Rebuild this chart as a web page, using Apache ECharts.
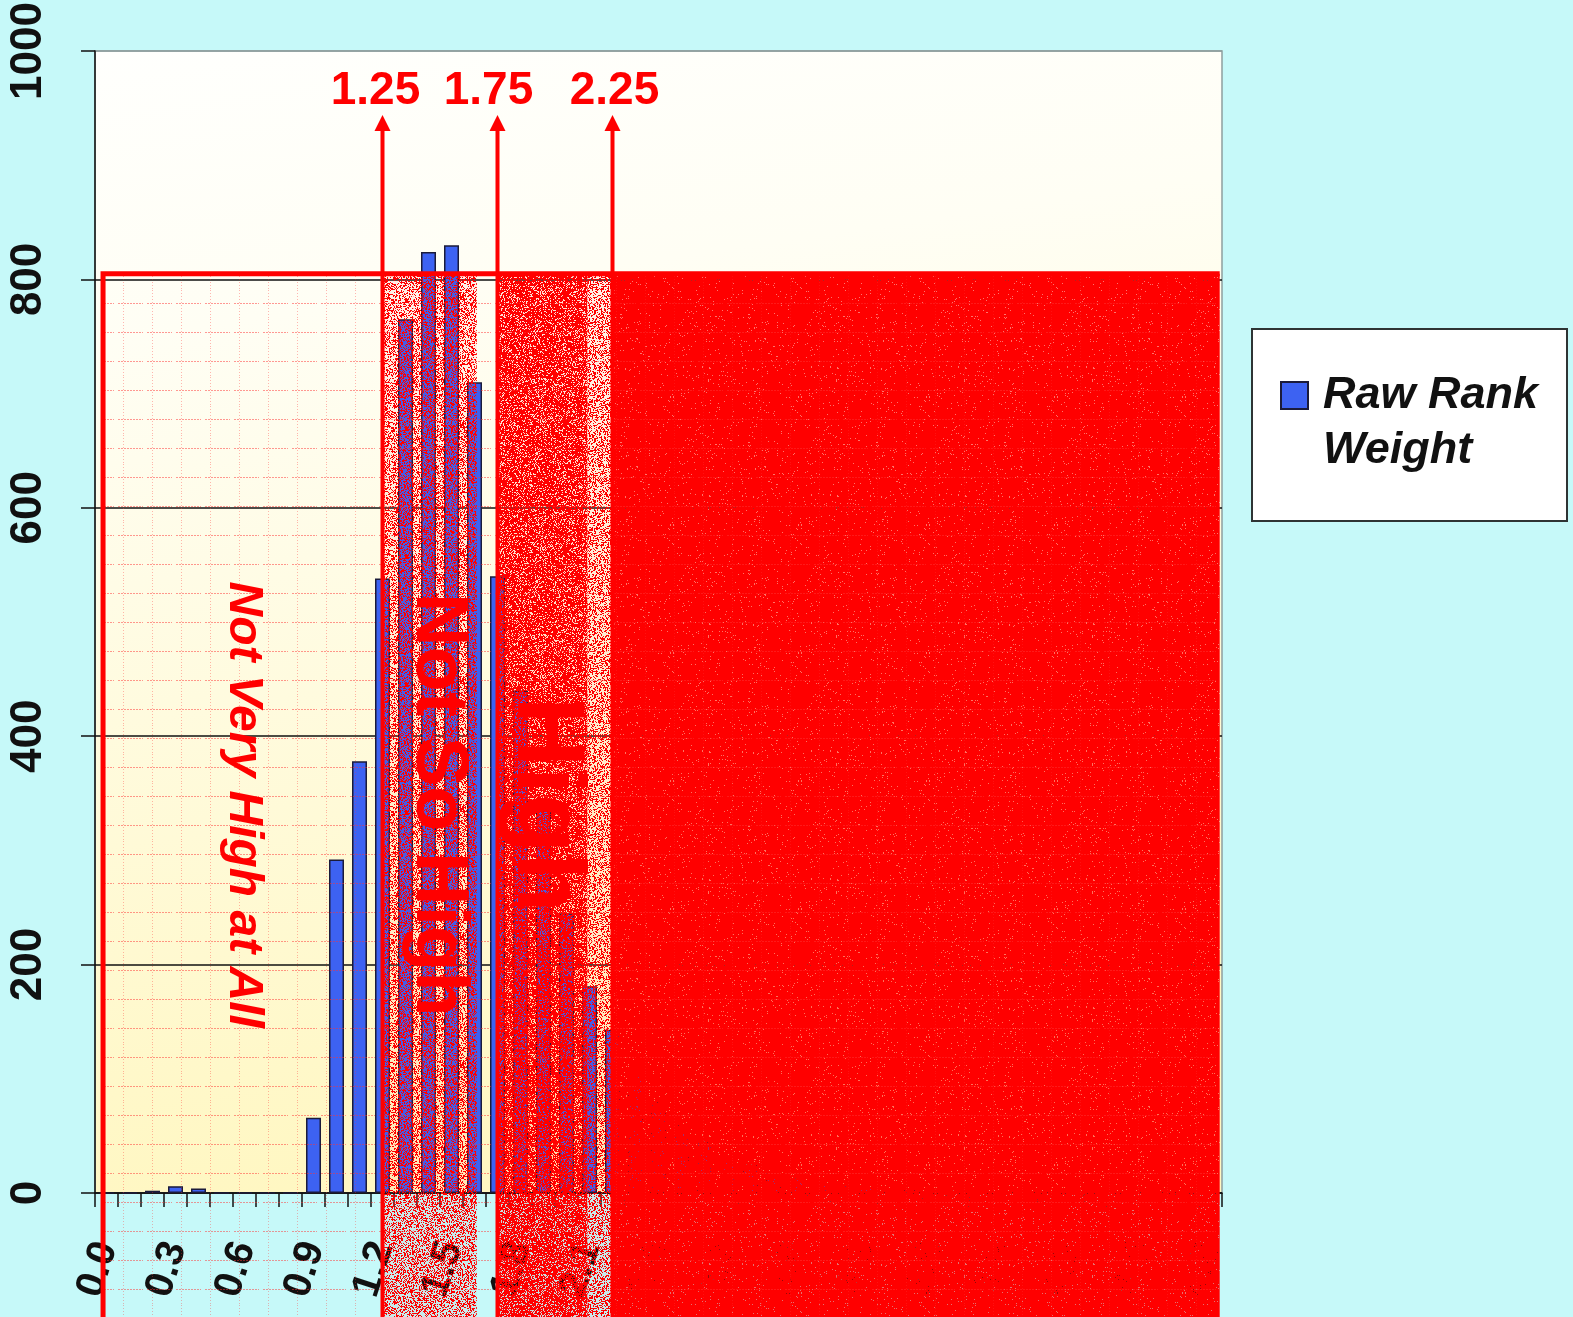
<!DOCTYPE html>
<html>
<head>
<meta charset="utf-8">
<title>Raw Rank Weight</title>
<script src="https://cdn.jsdelivr.net/npm/echarts/dist/echarts.min.js"></script>
<style>
  html, body { margin: 0; padding: 0; background: #C6F9F9; }
  #chart { width: 1573px; height: 1317px; }
</style>
</head>
<body>
<div id="chart"></div>
<script>
// Histogram bins (left edge of each 0.1-wide bin)
const categories = [
  '0.0','0.1','0.2','0.3','0.4','0.5','0.6','0.7','0.8','0.9',
  '1.0','1.1','1.2','1.3','1.4','1.5','1.6','1.7','1.8','1.9',
  '2.0','2.1','2.2','2.3','2.4','2.5','2.6','2.7','2.8','2.9',
  '3.0','3.1','3.2','3.3','3.4','3.5','3.6','3.7','3.8','3.9',
  '4.0','4.1','4.2','4.3','4.4','4.5','4.6','4.7','4.8'
];

// Raw rank weight counts per bin
const rawRankWeight = [
  0, 0, 2, 6, 4, 0, 0, 0, 0, 66,
  292, 378, 538, 765, 824, 830, 710, 540, 440, 335,
  245, 181, 143, 105, 80, 60, 45, 33, 25, 18,
  13, 10, 7, 5, 4, 3, 2, 2, 1, 1,
  1, 0, 0, 0, 0, 0, 0, 0, 0
];

// Cut points between the rating zones
const thresholds = [1.25, 1.75, 2.25];
const thresholdLabels = ['1.25', '1.75', '2.25'];
const zoneNames = ['Not Very High at All', 'Not So High', 'High'];
const seriesName = 'Raw Rank Weight';

const RED = '#FF0000';
const FONT = '"Liberation Sans", Arial, Helvetica, sans-serif';

// --- textures ---------------------------------------------------------
function noise(x, y, seed) {
  let h = (x * 374761393 + y * 668265263 + seed * 2246822519) | 0;
  h = Math.imul(h ^ (h >>> 13), 1274126177);
  h = h ^ (h >>> 16);
  return (h >>> 0) / 4294967296;
}
// red stipple: most pixels opaque red, the rest only lightly tinted
function stippleTile(density, gapAlpha, seed) {
  const size = 128;
  const c = document.createElement('canvas');
  c.width = size; c.height = size;
  const ctx = c.getContext('2d');
  const img = ctx.createImageData(size, size);
  for (let y = 0; y < size; y++) {
    for (let x = 0; x < size; x++) {
      const k = (y * size + x) * 4;
      img.data[k] = 255; img.data[k + 1] = 0; img.data[k + 2] = 0;
      img.data[k + 3] = noise(x, y, seed) < density ? 255 : Math.round(255 * gapAlpha);
    }
  }
  ctx.putImageData(img, 0, 0);
  return c;
}
function dotGridTile() {
  const s = 29;
  const c = document.createElement('canvas');
  c.width = s; c.height = s;
  const ctx = c.getContext('2d');
  ctx.fillStyle = 'rgba(255,50,50,0.5)';
  for (let x = 0; x < s; x++) if (x % 3 !== 1 && x > 1 && x < 27) ctx.fillRect(x, 13, 1, 1);
  ctx.fillStyle = 'rgba(255,50,50,0.35)';
  for (let y = 0; y < s; y++) if (y % 3 === 0) ctx.fillRect(7, y, 1, 1);
  return c;
}
const tiles = {
  light: stippleTile(0.42, 0.06, 1),
  light2: stippleTile(0.4, 0.06, 2),
  dense: stippleTile(0.78, 0.12, 3),
  solid: stippleTile(0.975, 0.55, 4),
  grid: dotGridTile()
};

// --- annotation layout (in data units of the bin axis / count axis) ---
const zoneTop = 805;          // top edge of the annotation frame
const frameLeft = 0.035;
const frameRight = 4.89;
const arrowTip = 944;
const labelLevel = 965;
const labelShift = [-7, -9, 2];
const zoneTextLevel = 340;
const zoneTextShift = [0, -3, -10];
const bands = [
  { from: thresholds[0], to: 1.66, tile: 'light' },
  { from: thresholds[1], to: 2.14, tile: 'dense' },
  { from: 2.14, to: thresholds[2], tile: 'light2' },
  { from: thresholds[2], to: frameRight, tile: 'solid' }
];
const zoneBounds = [frameLeft].concat(thresholds);
const zoneFonts = ['italic bold 48px ' + FONT, 'bold 74px ' + FONT, 'bold 97px ' + FONT];

function renderBand(params, api) {
  const b = bands[params.dataIndex];
  const p0 = api.coord([b.from, zoneTop]);
  const p1 = api.coord([b.to, zoneTop]);
  return {
    type: 'rect',
    shape: { x: p0[0], y: p0[1], width: p1[0] - p0[0], height: api.getHeight() - p0[1] },
    style: { fill: { image: tiles[b.tile], repeat: 'repeat' } }
  };
}
function renderFrame(params, api) {
  const tl = api.coord([frameLeft, zoneTop]);
  const tr = api.coord([frameRight, zoneTop]);
  const H = api.getHeight();
  return {
    type: 'group',
    children: [
      { type: 'rect', shape: { x: tl[0], y: tl[1], width: tr[0] - tl[0], height: H - tl[1] },
        style: { fill: { image: tiles.grid, repeat: 'repeat' } } },
      { type: 'polyline', shape: { points: [[tl[0], H + 5], tl, tr] },
        style: { stroke: RED, lineWidth: 5, fill: null } }
    ]
  };
}
function renderZoneText(params, api) {
  const i = params.dataIndex;
  const c = api.coord([(zoneBounds[i] + zoneBounds[i + 1]) / 2, zoneTextLevel]);
  return {
    type: 'text', x: c[0] + zoneTextShift[i], y: c[1], rotation: -Math.PI / 2,
    style: { text: zoneNames[i], font: zoneFonts[i], fill: RED, align: 'center', verticalAlign: 'middle' }
  };
}
function renderArrow(params, api) {
  const i = params.dataIndex;
  const tip = api.coord([thresholds[i], arrowTip]);
  const lab = api.coord([thresholds[i], labelLevel]);
  const H = api.getHeight();
  return {
    type: 'group',
    children: [
      { type: 'line', shape: { x1: tip[0], y1: tip[1] + 10, x2: tip[0], y2: H + 5 },
        style: { stroke: RED, lineWidth: 4 } },
      { type: 'polygon', shape: { points: [[tip[0], tip[1]], [tip[0] - 8, tip[1] + 16], [tip[0] + 8, tip[1] + 16]] },
        style: { fill: RED } },
      { type: 'text', x: lab[0] + labelShift[i], y: lab[1],
        style: { text: thresholdLabels[i], font: 'bold 46px ' + FONT, fill: RED, align: 'center', verticalAlign: 'middle' } }
    ]
  };
}

const overlayBase = {
  type: 'custom', coordinateSystem: 'cartesian2d', xAxisIndex: 1, yAxisIndex: 0,
  clip: false, silent: true, animation: false, legendHoverLink: false
};

const chart = echarts.init(document.getElementById('chart'), null, { renderer: 'canvas', width: 1573, height: 1317 });

chart.setOption({
  backgroundColor: '#C6F9F9',
  animation: false,
  textStyle: { fontFamily: FONT },
  grid: {
    left: 95, top: 51, right: 351, bottom: 124,
    containLabel: false, outerBoundsMode: 'none',
    show: true,
    borderColor: '#8E9E9E', borderWidth: 1.5,
    backgroundColor: new echarts.graphic.LinearGradient(0, 0, 0.15, 1, [
      { offset: 0, color: '#FFFFFD' },
      { offset: 0.25, color: '#FFFEF4' },
      { offset: 1, color: '#FFF7C2' }
    ])
  },
  graphic: [{
    type: 'rect', left: 1251, top: 328, z: 1, silent: true,
    shape: { width: 315, height: 192 },
    style: { fill: '#FFFFFF', stroke: '#2E3434', lineWidth: 2 }
  }],
  legend: {
    show: true, left: 1280, top: 313, padding: 0, z: 5,
    orient: 'vertical', selectedMode: false,
    itemWidth: 27, itemHeight: 27, icon: 'rect',
    data: [seriesName],
    // blank first line keeps the swatch level with "Raw Rank"
    formatter: () => ' \nRaw Rank\nWeight',
    textStyle: {
      fontFamily: FONT, fontSize: 45, fontStyle: 'italic', fontWeight: 'bold',
      color: '#111111', lineHeight: 55, padding: [0, 0, 0, 10]
    }
  },
  xAxis: [{
    type: 'category', data: categories, boundaryGap: true,
    axisLine: { show: true, lineStyle: { color: '#111', width: 1.5 } },
    axisTick: { show: true, interval: 0, alignWithLabel: false, length: 14, lineStyle: { color: '#111', width: 1.5 } },
    axisLabel: {
      interval: 2, rotate: 72, margin: 50,
      fontSize: 40, fontWeight: 'bold', color: '#111', fontFamily: FONT
    },
    splitLine: { show: false }
  }, {
    type: 'value', min: 0, max: 4.9, show: false,
    splitLine: { show: false }
  }],
  yAxis: [{
    type: 'value', min: 0, max: 1000, interval: 200,
    axisLine: { show: true, lineStyle: { color: '#111', width: 1.5 } },
    axisTick: { show: true, length: 14, lineStyle: { color: '#111', width: 1.5 } },
    axisLabel: {
      rotate: 90, margin: 44, formatter: v => String(v),
      fontSize: 44, fontWeight: 'bold', color: '#111', fontFamily: FONT
    },
    splitLine: { show: true, lineStyle: { color: ['#111', '#111', '#111', '#111', '#111', '#8E9E9E'], width: 1.5 } }
  }],
  series: [
    {
      name: seriesName, type: 'bar', xAxisIndex: 0, yAxisIndex: 0,
      data: rawRankWeight, barWidth: 15, z: 2,
      itemStyle: { color: '#3D62F2', borderColor: '#1B1B3A', borderWidth: 1.5 }
    },
    Object.assign({}, overlayBase, { z: 3, data: bands.map(b => [b.from, zoneTop]), renderItem: renderBand }),
    Object.assign({}, overlayBase, { z: 4, data: [[frameLeft, zoneTop]], renderItem: renderFrame }),
    Object.assign({}, overlayBase, { z: 5, data: zoneNames.map((n, i) => [zoneBounds[i], zoneTextLevel]), renderItem: renderZoneText }),
    Object.assign({}, overlayBase, { z: 6, data: thresholds.map(t => [t, arrowTip]), renderItem: renderArrow })
  ]
});
</script>
</body>
</html>
